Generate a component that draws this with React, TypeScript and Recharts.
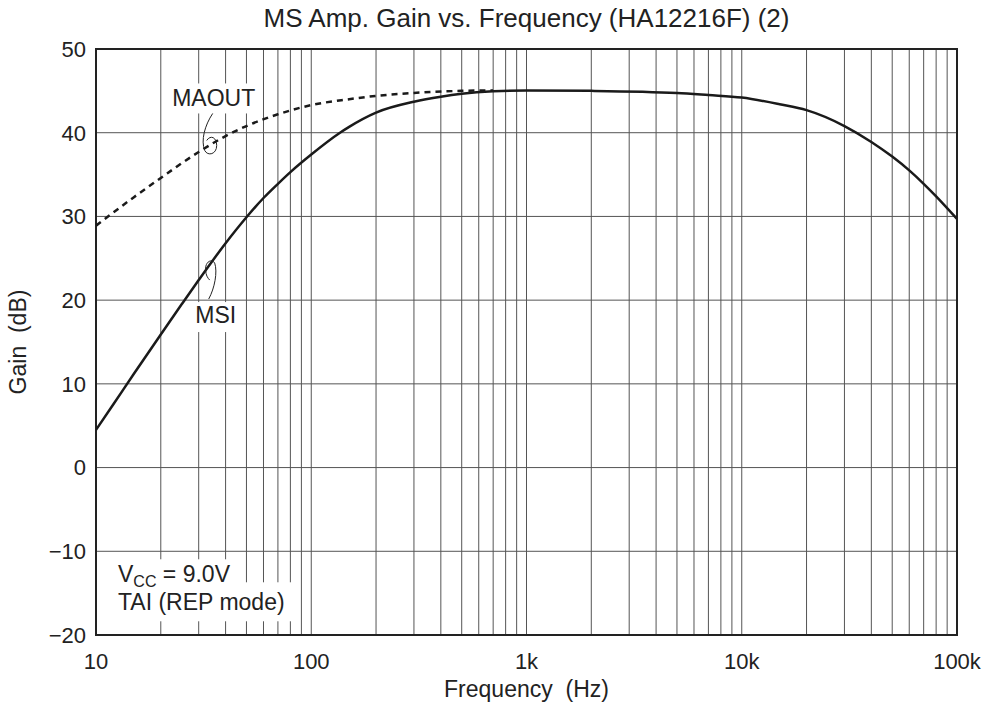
import {
  LineChart,
  Line,
  XAxis,
  YAxis,
  CartesianGrid,
  ReferenceArea,
  ReferenceDot,
  Label,
} from "recharts";

// frequency (Hz) / gain (dB)
const msiFreq = [10, 12, 15, 20, 25, 30, 40, 50, 60, 70, 80, 100, 136, 150, 200, 300, 400, 500, 700, 1000, 2000, 5000, 7000, 10000, 15000, 20000, 30000, 40000, 50000, 60000, 70000, 80000, 100000];
const msiGain = [4.5, 7.5, 11.2, 15.9, 19.5, 22.4, 26.8, 29.9, 32.2, 33.9, 35.3, 37.4, 40.0, 40.7, 42.4, 43.7, 44.3, 44.65, 44.95, 45.05, 45.0, 44.75, 44.5, 44.2, 43.4, 42.7, 40.8, 38.9, 37.15, 35.5, 33.9, 32.4, 29.7];

const maoutFreq = [10, 15, 20, 30, 40, 50, 70, 100, 150, 200, 300, 500, 700];
const maoutGain = [28.9, 32.3, 34.6, 37.7, 39.6, 40.8, 42.2, 43.3, 44.0, 44.4, 44.75, 45.0, 45.05];

const decades = [10, 100, 1000, 10000, 100000];
const decadeLabels = ["10", "100", "1k", "10k", "100k"];
const gainTicks = [-20, -10, 0, 10, 20, 30, 40, 50];

const msiData = msiFreq.map((f, i) => ({ f, gain: msiGain[i] }));
const maoutData = maoutFreq.map((f, i) => ({ f, gain: maoutGain[i] }));

// log grid: 1..9 in every decade
const freqTicks: number[] = [];
decades.slice(0, 4).forEach((d) => {
  for (let k = 1; k < 10; k++) freqTicks.push(d * k);
});
freqTicks.push(100000);

const font = '"Liberation Sans", Arial, sans-serif';
const ink = "#222";

const fmtFreq = (v: number) => {
  const i = decades.indexOf(v);
  return i >= 0 ? decadeLabels[i] : "";
};
const fmtGain = (v: number) => (v < 0 ? "\u2212" + Math.abs(v) : String(v));

const MaoutNote = ({ cx, cy }: any) => (
  <g>
    <rect x={cx - 31} y={cy - 66} width={92} height={30} fill="#fff" />
    <path
      d={`M ${cx + 14} ${cy - 36} C ${cx + 6} ${cy - 24}, ${cx + 2} ${cy - 9}, ${cx + 6} ${cy + 1} C ${cx + 9} ${cy + 7}, ${cx + 18} ${cy + 5}, ${cx + 18} ${cy - 4} C ${cx + 18} ${cy - 12}, ${cx + 12} ${cy - 15}, ${cx + 8} ${cy - 9}`}
      fill="none"
      stroke={ink}
      strokeWidth={1}
    />
    <text x={cx + 15} y={cy - 43} textAnchor="middle" fontSize={23} fill={ink} fontFamily={font}>
      MAOUT
    </text>
  </g>
);

const MsiNote = ({ cx, cy }: any) => (
  <g>
    <rect x={cx - 8} y={cy + 22} width={50} height={30} fill="#fff" />
    <path
      d={`M ${cx + 10} ${cy + 19} C ${cx + 16} ${cy + 8}, ${cx + 19} ${cy - 8}, ${cx + 16} ${cy - 17} C ${cx + 13} ${cy - 22}, ${cx + 6} ${cy - 18}, ${cx + 7} ${cy - 10} C ${cx + 7} ${cy - 5}, ${cx + 9} ${cy - 2}, ${cx + 11} ${cy}`}
      fill="none"
      stroke={ink}
      strokeWidth={1}
    />
    <text x={cx + 17} y={cy + 43} textAnchor="middle" fontSize={23} fill={ink} fontFamily={font}>
      MSI
    </text>
  </g>
);

const CondNote = ({ cx, cy }: any) => (
  <g>
    <rect x={cx + 4} y={cy + 8} width={142} height={30} fill="#fff" />
    <rect x={cx + 4} y={cy + 31} width={197} height={39} fill="#fff" />
    <text x={cx + 22} y={cy + 31} fontSize={23} fill={ink} fontFamily={font}>
      V<tspan fontSize={16} dy={5}>CC</tspan>
      <tspan dy={-5}> = 9.0V</tspan>
    </text>
    <text x={cx + 22} y={cy + 59} fontSize={23} fill={ink} fontFamily={font}>
      TAI (REP mode)
    </text>
  </g>
);

export default function App() {
  return (
    <div style={{ position: "absolute", left: 0, top: 0, width: 989, height: 705, background: "#fff", fontFamily: font }}>
      <div
        style={{
          position: "absolute",
          left: 96,
          width: 861,
          top: 3,
          textAlign: "center",
          fontSize: 26,
          color: ink,
        }}
      >
        MS Amp. Gain vs. Frequency (HA12216F) (2)
      </div>
      <LineChart width={989} height={705} margin={{ top: 49, right: 32, bottom: 8, left: 36 }}>
        <CartesianGrid stroke="#555" strokeWidth={1} />
        <XAxis
          dataKey="f"
          type="number"
          scale="log"
          domain={[10, 100000]}
          ticks={freqTicks}
          tickFormatter={fmtFreq}
          interval={0}
          allowDataOverflow
          tickLine={false}
          axisLine={false}
          height={62}
          tick={{ fontSize: 22, fill: ink, fontFamily: font }}
          tickMargin={12}
        >
          <Label
            value={"Frequency\u00a0\u00a0(Hz)"}
            position="insideBottom"
            offset={0}
            style={{ fontSize: 23, fill: ink, fontFamily: font }}
          />
        </XAxis>
        <YAxis
          type="number"
          domain={[-20, 50]}
          ticks={gainTicks}
          tickFormatter={fmtGain}
          interval={0}
          allowDataOverflow
          tickLine={false}
          axisLine={false}
          width={60}
          tick={{ fontSize: 22, fill: ink, fontFamily: font }}
          tickMargin={4}
        >
          <Label
            value={"Gain\u00a0\u00a0(dB)"}
            angle={-90}
            position="insideLeft"
            offset={-18}
            style={{ fontSize: 23, fill: ink, fontFamily: font, textAnchor: "middle" }}
          />
        </YAxis>
        <ReferenceArea x1={10} x2={100000} y1={-20} y2={50} fill="none" stroke={ink} strokeWidth={2} />
        <Line
          data={maoutData}
          dataKey="gain"
          type="monotone"
          stroke="#1a1a1a"
          strokeWidth={2.5}
          strokeDasharray="6 5"
          dot={false}
          isAnimationActive={false}
        />
        <Line
          data={msiData}
          dataKey="gain"
          type="monotone"
          stroke="#1a1a1a"
          strokeWidth={2.5}
          dot={false}
          isAnimationActive={false}
        />
        <ReferenceDot x={30} y={38} shape={MaoutNote} />
        <ReferenceDot x={30} y={22.4} shape={MsiNote} />
        <ReferenceDot x={10} y={-10} shape={CondNote} />
      </LineChart>
    </div>
  );
}
